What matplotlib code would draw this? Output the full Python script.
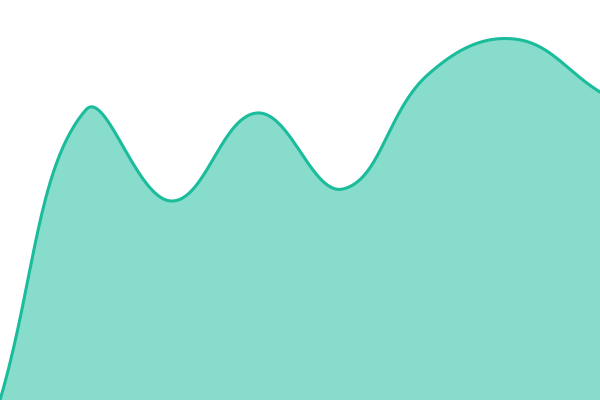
import numpy as np
import matplotlib
matplotlib.use('Agg')
import matplotlib.pyplot as plt

# datos (altura en px sobre la base)
categorias = [0, 1, 2, 3, 4, 5, 6, 7]
valores = [0, 290, 199, 287, 211, 326, 361, 308]

linea = '#1abc9c'
ANCHO, ALTO = 600, 400
TENSION = 0.4


def suavizar(x, y, n=60):
    # bezier con tensión (estilo Chart.js), calculado en píxeles
    p = np.column_stack([np.asarray(x, float) * ANCHO / (len(x) - 1),
                         np.asarray(y, float)])
    k = len(p)
    cin = p.copy()
    cout = p.copy()
    for i in range(k):
        prev = p[max(i - 1, 0)]
        sig = p[min(i + 1, k - 1)]
        d01 = np.linalg.norm(p[i] - prev)
        d12 = np.linalg.norm(sig - p[i])
        tot = d01 + d12
        s01 = d01 / tot if tot else 0
        s12 = d12 / tot if tot else 0
        cin[i] = p[i] - TENSION * s01 * (sig - prev)
        cout[i] = p[i] + TENSION * s12 * (sig - prev)
    # limitar puntos de control al área del gráfico
    for c in (cin, cout):
        c[:, 0] = np.clip(c[:, 0], 0, ANCHO)
        c[:, 1] = np.clip(c[:, 1], 0, ALTO)
    pts = []
    t = np.linspace(0, 1, n)[:, None]
    for i in range(k - 1):
        a, b, c, d = p[i], cout[i], cin[i + 1], p[i + 1]
        seg = ((1 - t)**3 * a + 3 * (1 - t)**2 * t * b
               + 3 * (1 - t) * t**2 * c + t**3 * d)
        pts.append(seg if i == 0 else seg[1:])
    pts = np.vstack(pts)
    return pts[:, 0] * (len(x) - 1) / ANCHO, pts[:, 1]


fig = plt.figure(figsize=(6, 4), dpi=100)
ax = fig.add_axes([0, 0, 1, 1])
xs, ys = suavizar(categorias, valores)
ax.fill_between(xs, 0, ys, color=linea, alpha=0.52, linewidth=0)
ax.plot(xs, ys, color=linea, linewidth=2.2)
ax.set_xlim(0, 7)
ax.set_ylim(0, 400)
ax.axis('off')

plt.savefig('out.png', dpi=100)
plt.close()
